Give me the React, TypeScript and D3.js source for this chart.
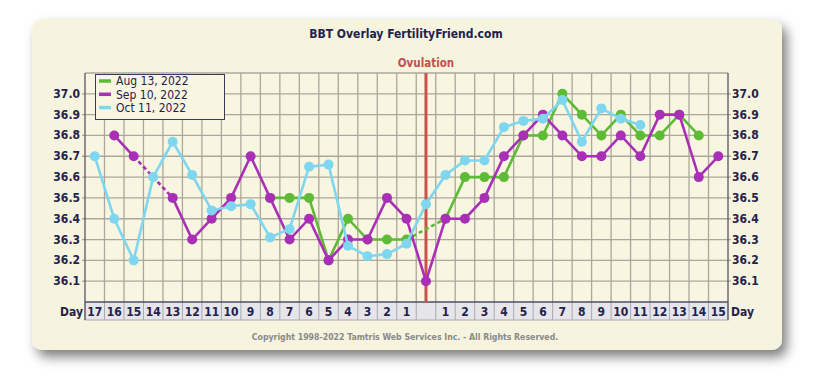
import React from 'react'
import * as d3 from 'd3'

// columns: Day 17..1, ovulation, Day 1..15
const preDays = d3.range(17, 0, -1).map(String)
const postDays = d3.range(1, 16).map(String)
const dayLabels = [...preDays, '', ...postDays]
const ovulationIndex = 17

const yTicks = [36.1, 36.2, 36.3, 36.4, 36.5, 36.6, 36.7, 36.8, 36.9, 37.0]

type V = number | null
const aug13: V[] = [
  null, null, null, null, null, null, null, null, null, 36.5, 36.5, 36.5, 36.2, 36.4, 36.3, 36.3, 36.3,
  null,
  36.4, 36.6, 36.6, 36.6, 36.8, 36.8, 37.0, 36.9, 36.8, 36.9, 36.8, 36.8, 36.9, 36.8, null,
]
const sep10: V[] = [
  null, 36.8, 36.7, null, 36.5, 36.3, 36.4, 36.5, 36.7, 36.5, 36.3, 36.4, 36.2, 36.3, 36.3, 36.5, 36.4,
  36.1,
  36.4, 36.4, 36.5, 36.7, 36.8, 36.9, 36.8, 36.7, 36.7, 36.8, 36.7, 36.9, 36.9, 36.6, 36.7,
]
const oct11: V[] = [
  36.7, 36.4, 36.2, 36.6, 36.77, 36.61, 36.44, 36.46, 36.47, 36.31, 36.35, 36.65, 36.66, 36.27, 36.22, 36.23, 36.28,
  36.47,
  36.61, 36.68, 36.68, 36.84, 36.87, 36.88, 36.97, 36.77, 36.93, 36.88, 36.85, null, null, null, null,
]

const series = [
  { name: 'Aug 13, 2022', color: '#5dbb35', values: aug13 },
  { name: 'Sep 10, 2022', color: '#a82fb6', values: sep10 },
  { name: 'Oct 11, 2022', color: '#7fd6ef', values: oct11 },
]

const W = 827
const H = 387
const plot = { left: 85, right: 728, top: 73, bottom: 302 }
const bandBottom = 320
const navy = '#22224a'
const font = "'DejaVu Sans Condensed', 'DejaVu Sans', Verdana, sans-serif"

const App: React.FC = () => {
  const x = d3
    .scaleBand<number>()
    .domain(d3.range(dayLabels.length))
    .range([plot.left, plot.right])
  const y = d3.scaleLinear().domain([36.0, 37.1]).range([plot.bottom, plot.top])
  const cx = (i: number) => x(i)! + x.bandwidth() / 2

  const line = d3
    .line<V>()
    .defined((d) => d != null)
    .x((_, i) => cx(i))
    .y((d) => y(d as number))

  // dashed bridges across missing days
  const bridges = (vals: V[]) => {
    const idx = vals.map((v, i) => (v == null ? -1 : i)).filter((i) => i >= 0)
    const out: [number, number][] = []
    for (let k = 1; k < idx.length; k++) if (idx[k] - idx[k - 1] > 1) out.push([idx[k - 1], idx[k]])
    return out
  }

  const gridColor = '#aca79c'

  return (
    <svg width={W} height={H} style={{ position: 'absolute', left: 0, top: 0 }} fontFamily={font}>
      <defs>
        <filter id="shadow" x="-10%" y="-10%" width="120%" height="130%">
          <feDropShadow dx="5" dy="7" stdDeviation="6" floodColor="#000" floodOpacity="0.5" />
        </filter>
      </defs>
      <rect width={W} height={H} fill="#fff" />
      <rect x={32} y={19} width={750} height={331} rx={10} fill="#f6f3de" filter="url(#shadow)" />

      <text x={406} y={38} textAnchor="middle" fontWeight="bold" fontSize={12} fill={navy}>
        BBT Overlay FertilityFriend.com
      </text>
      <text x={426} y={67} textAnchor="middle" fontWeight="bold" fontSize={11.5} fill="#c0504d">
        Ovulation
      </text>

      <rect x={plot.left} y={plot.top} width={plot.right - plot.left} height={plot.bottom - plot.top} fill="#f8f5e0" />

      {/* vertical grid */}
      {d3.range(1, dayLabels.length).map((i) => (
        <line key={'v' + i} x1={x(i)} x2={x(i)} y1={plot.top} y2={bandBottom} stroke={gridColor} strokeWidth={1.3} />
      ))}
      {/* horizontal grid */}
      {yTicks.map((t) => (
        <line key={'h' + t} x1={plot.left - 3} x2={plot.right + 3} y1={y(t)} y2={y(t)} stroke={gridColor} strokeWidth={1.3} />
      ))}
      <line x1={plot.left} x2={plot.right} y1={plot.top} y2={plot.top} stroke={gridColor} strokeWidth={1.3} />

      {/* day band */}
      <rect x={plot.left} y={plot.bottom} width={plot.right - plot.left} height={bandBottom - plot.bottom} fill="#e5e5ea" stroke="#a9a9b0" />
      {d3.range(1, dayLabels.length).map((i) => (
        <line key={'b' + i} x1={x(i)} x2={x(i)} y1={plot.bottom} y2={bandBottom} stroke="#a9a9b0" />
      ))}
      <line x1={plot.left} x2={plot.right} y1={plot.bottom} y2={plot.bottom} stroke={navy} strokeWidth={1.2} />
      {dayLabels.map((d, i) => (
        <text key={'d' + i} x={cx(i)} y={316} textAnchor="middle" fontWeight="bold" fontSize={12} fill={navy}>
          {d}
        </text>
      ))}
      <text x={plot.left - 2} y={316} textAnchor="end" fontWeight="bold" fontSize={12} fill={navy}>Day</text>
      <text x={plot.right + 3} y={316} fontWeight="bold" fontSize={12} fill={navy}>Day</text>

      {/* axes */}
      <line x1={plot.left} x2={plot.left} y1={plot.top} y2={bandBottom} stroke="#555566" strokeWidth={1.3} />
      <line x1={plot.right} x2={plot.right} y1={plot.top} y2={bandBottom} stroke="#555566" strokeWidth={1.3} />
      {yTicks.map((t) => (
        <g key={'yt' + t}>
          <text x={plot.left - 5} y={y(t) + 4} textAnchor="end" fontWeight="bold" fontSize={12} fill={navy}>
            {t.toFixed(1)}
          </text>
          <text x={plot.right + 4} y={y(t) + 4} fontWeight="bold" fontSize={12} fill={navy}>
            {t.toFixed(1)}
          </text>
        </g>
      ))}

      {/* ovulation line */}
      <line x1={cx(ovulationIndex)} x2={cx(ovulationIndex)} y1={plot.top} y2={plot.bottom} stroke="#c9524c" strokeWidth={3} />

      {series.map((s) => (
        <g key={s.name}>
          <path d={line(s.values) ?? ''} fill="none" stroke={s.color} strokeWidth={2.6} />
          {bridges(s.values).map(([a, b]) => (
            <line
              key={a}
              x1={cx(a)} y1={y(s.values[a] as number)} x2={cx(b)} y2={y(s.values[b] as number)}
              stroke={s.color} strokeWidth={2.6} strokeDasharray="4 3"
            />
          ))}
          {s.values.map((v, i) =>
            v == null ? null : <circle key={i} cx={cx(i)} cy={y(v)} r={5} fill={s.color} />
          )}
        </g>
      ))}

      {/* legend */}
      <rect x={95.5} y={74.5} width={129} height={45} fill="#f8f5e0" stroke="#3a3a5a" />
      {series.map((s, i) => (
        <g key={'lg' + s.name} transform={`translate(99,${81 + i * 13.3})`}>
          <line x1={0} x2={12} y1={0} y2={0} stroke={s.color} strokeWidth={3.5} />
          <text x={17} y={4.2} fontSize={12} fill={navy}>{s.name}</text>
        </g>
      ))}

      <text x={405} y={339.5} textAnchor="middle" fontWeight="bold" fontSize={8.7} fill="#8a8a88">
        Copyright 1998-2022 Tamtris Web Services Inc. - All Rights Reserved.
      </text>
    </svg>
  )
}

export default App
